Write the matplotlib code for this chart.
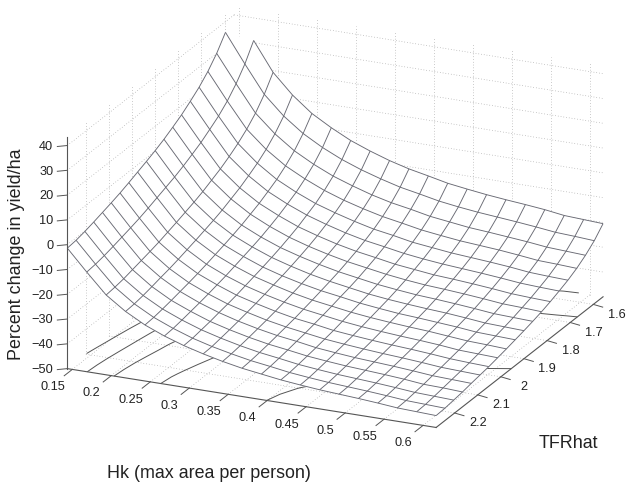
import numpy as np
import matplotlib
matplotlib.use("Agg")
import matplotlib.pyplot as plt
from mpl_toolkits.mplot3d import proj3d

plt.rcParams['font.family'] = ['Liberation Sans', 'DejaVu Sans']

# grid of the mesh, both
hk = [0.1436, 0.1685, 0.1934, 0.2183, 0.2432, 0.2681, 0.2930, 0.3179, 0.3428, 0.3677,
      0.3926, 0.4175, 0.4424, 0.4673, 0.4922, 0.5171, 0.5420, 0.5669, 0.5918, 0.6167]
tfr = [2.280, 2.242, 2.204, 2.166, 2.128, 2.090, 2.052, 2.014, 1.976, 1.938,
       1.900, 1.862, 1.824, 1.786, 1.748, 1.710, 1.672, 1.634, 1.596, 1.558]

# percent change, one row per tfr value, one column per hk value
nan = float('nan')
pct = [
    [-1.4, -9.8, -17.8, -23.2, -27.4, -30.6, -33.2, -35.3, -37.1, -38.6, -39.7, -40.8, -41.6, -42.3, -42.8, -43.3, -43.9, -44.6, -44.9, -45.2],
    [-1.0, -9.4, -17.4, -22.9, -27.1, -30.3, -33.0, -35.1, -36.8, -38.3, -39.4, -40.6, -41.4, -42.1, -42.6, -43.1, -43.7, -44.4, -44.7, -45.0],
    [-0.2, -8.7, -16.8, -22.3, -26.5, -29.7, -32.4, -34.5, -36.3, -37.8, -38.9, -40.1, -40.9, -41.6, -42.1, -42.6, -43.2, -43.9, -44.2, -44.5],
    [0.8, -7.8, -15.9, -21.5, -25.8, -29.0, -31.8, -33.9, -35.7, -37.2, -38.3, -39.5, -40.3, -41.0, -41.5, -42.0, -42.6, -43.4, -43.6, -44.0],
    [1.9, -6.8, -15.0, -20.6, -25.0, -28.3, -31.0, -33.2, -35.0, -36.5, -37.6, -38.9, -39.7, -40.4, -40.9, -41.4, -42.0, -42.7, -43.0, -43.3],
    [3.0, -5.8, -14.1, -19.8, -24.2, -27.5, -30.3, -32.4, -34.3, -35.8, -37.0, -38.2, -39.0, -39.7, -40.3, -40.8, -41.4, -42.1, -42.4, -42.7],
    [4.2, -4.7, -13.1, -18.8, -23.3, -26.6, -29.5, -31.6, -33.5, -35.1, -36.2, -37.5, -38.3, -39.0, -39.6, -40.1, -40.7, -41.4, -41.8, -42.1],
    [5.6, -3.4, -11.9, -17.7, -22.3, -25.7, -28.5, -30.7, -32.6, -34.2, -35.4, -36.6, -37.5, -38.2, -38.8, -39.3, -39.9, -40.7, -41.0, -41.3],
    [7.1, -2.0, -10.7, -16.6, -21.2, -24.6, -27.5, -29.7, -31.7, -33.3, -34.5, -35.7, -36.6, -37.3, -37.9, -38.4, -39.1, -39.8, -40.1, -40.5],
    [8.6, -0.6, -9.4, -15.4, -20.1, -23.5, -26.5, -28.8, -30.7, -32.3, -33.5, -34.8, -35.7, -36.5, -37.0, -37.6, -38.2, -39.0, -39.3, -39.6],
    [10.2, 0.8, -8.1, -14.2, -18.9, -22.4, -25.4, -27.7, -29.7, -31.3, -32.6, -33.9, -34.8, -35.5, -36.1, -36.6, -37.3, -38.1, -38.4, -38.7],
    [12.0, 2.5, -6.6, -12.8, -17.6, -21.2, -24.2, -26.5, -28.5, -30.2, -31.5, -32.8, -33.7, -34.5, -35.0, -35.6, -36.3, -37.1, -37.4, -37.7],
    [14.1, 4.4, -4.8, -11.1, -16.0, -19.7, -22.8, -25.2, -27.2, -28.9, -30.2, -31.5, -32.5, -33.3, -33.8, -34.4, -35.1, -35.9, -36.2, -36.6],
    [16.3, 6.4, -3.0, -9.4, -14.4, -18.1, -21.3, -23.7, -25.8, -27.5, -28.8, -30.2, -31.1, -32.0, -32.5, -33.1, -33.8, -34.6, -35.0, -35.3],
    [19.0, 8.9, -0.8, -7.3, -12.4, -16.2, -19.4, -21.9, -24.1, -25.9, -27.2, -28.6, -29.6, -30.4, -31.0, -31.6, -32.3, -33.1, -33.5, -33.8],
    [21.9, 11.5, 1.7, -5.0, -10.3, -14.2, -17.5, -20.0, -22.2, -24.1, -25.4, -26.9, -27.8, -28.7, -29.3, -29.9, -30.6, -31.5, -31.9, -32.2],
    [25.5, 14.8, 4.7, -2.2, -7.6, -11.6, -15.0, -17.7, -19.9, -21.8, -23.2, -24.7, -25.7, -26.6, -27.2, -27.8, -28.6, -29.5, -29.8, -30.2],
    [30.0, 19.0, 8.4, 1.3, -4.3, -8.5, -12.0, -14.7, -17.1, -19.0, -20.4, -22.0, -23.0, -24.0, -24.6, -25.3, -26.0, -26.9, -27.3, -27.7],
    [35.7, 24.2, 13.2, 5.7, -0.1, -4.5, -8.1, -11.0, -13.4, -15.5, -17.0, -18.6, -19.7, -20.6, -21.3, -22.0, -22.8, -23.7, -24.1, -24.6],
    [nan, 30.9, 19.3, 11.4, 5.2, 0.7, -3.2, -6.2, -8.8, -10.9, -12.5, -14.2, -15.3, -16.3, -17.1, -17.8, -18.6, -19.7, -20.1, -20.5],
]

hk_ticks = [0.15, 0.2, 0.25, 0.3, 0.35, 0.4, 0.45, 0.5, 0.55, 0.6]
hk_labels = ['0.15', '0.2', '0.25', '0.3', '0.35', '0.4', '0.45', '0.5', '0.55', '0.6']
tfr_ticks = [1.6, 1.7, 1.8, 1.9, 2.0, 2.1, 2.2]
tfr_labels = ['1.6', '1.7', '1.8', '1.9', '2', '2.1', '2.2']
z_ticks = [-50, -40, -30, -20, -10, 0, 10, 20, 30, 40]
contour_levels = [-40, -30, -20, -10, 0, 10, 20, 30, 40]

hk_min, hk_max = hk[0], hk[-1]
tfr_front, tfr_back = tfr[0], tfr[-1]
z_min, z_max = -50, 43.5

grid_color = '#9a9a9a'
axis_color = '#555555'
mesh_color = '#686973'
text_color = '#222222'

W, H = 629, 491
fig = plt.figure(figsize=(W / 100, H / 100), dpi=100)
ax = fig.add_axes([24 / W, -37 / H, 606 / W, 606 / H], projection='3d', proj_type='ortho')
ax.computed_zorder = False
ax.set_box_aspect((405, 406, 248))
ax.view_init(elev=20.7, azim=-65.7)
ax.set_xlim(hk_min, hk_max)
ax.set_ylim(tfr_front, tfr_back)
ax.set_zlim(z_min, z_max)
ax.set_axis_off()


def label3d(x, y, z, s, **kw):
    # plain 2d text placed at the projected position of a 3d point
    x2, y2, _ = proj3d.proj_transform(x, y, z, ax.get_proj())
    ax.text2D(x2, y2, s, transform=ax.transData, va='center', fontsize=9.2, color=text_color, **kw)


dots = dict(color=grid_color, lw=0.5, ls=(0, (1, 3)), zorder=1)

# dotted grid on the floor and on the two back walls
for h in hk_ticks:
    ax.plot([h, h], [tfr_front, tfr_back], [z_min, z_min], **dots)
    ax.plot([h, h], [tfr_back, tfr_back], [z_min, z_max], **dots)
for t in tfr_ticks:
    ax.plot([hk_min, hk_max], [t, t], [z_min, z_min], **dots)
    ax.plot([hk_min, hk_min], [t, t], [z_min, z_max], **dots)
for z in z_ticks[1:]:
    ax.plot([hk_min, hk_min], [tfr_front, tfr_back], [z, z], **dots)
    ax.plot([hk_min, hk_max], [tfr_back, tfr_back], [z, z], **dots)

X, Y = np.meshgrid(hk, tfr)
Z = np.array(pct)

# meshc style contours on the floor, the surface covers most of them
ax.contour(X, Y, Z, levels=contour_levels, offset=z_min, colors='#555555',
           linewidths=0.7, linestyles='solid', zorder=2)
# white faces hide what is behind, the wireframe leaves the gap at the missing corner open
ax.plot_surface(X, Y, Z, rstride=1, cstride=1, color='white', edgecolor='white',
                linewidth=0.2, shade=False, zorder=3)
ax.plot_wireframe(X, Y, Z, rstride=1, cstride=1, color=mesh_color, linewidth=0.65, zorder=4)

# axis lines
ax.plot([hk_min, hk_max], [tfr_front, tfr_front], [z_min, z_min], color=axis_color, lw=0.8, zorder=5)
ax.plot([hk_max, hk_max], [tfr_front, tfr_back], [z_min, z_min], color=axis_color, lw=0.8, zorder=5)
ax.plot([hk_min, hk_min], [tfr_front, tfr_front], [z_min, z_max], color=axis_color, lw=0.8, zorder=5)

for h, lab in zip(hk_ticks, hk_labels):
    ax.plot([h, h], [tfr_front, tfr_front + 0.035], [z_min, z_min], color=axis_color, lw=0.7, zorder=5)
    label3d(h, tfr_front + 0.085, z_min - 1, lab, ha='center')
for t, lab in zip(tfr_ticks, tfr_labels):
    ax.plot([hk_max, hk_max + 0.012], [t, t], [z_min, z_min - 0.5], color=axis_color, lw=0.7, zorder=5)
    label3d(hk_max + 0.03, t, z_min - 2.6, lab, ha='center')
for z in z_ticks:
    ax.plot([hk_min, hk_min - 0.0093], [tfr_front, tfr_front + 0.0119], [z, z], color=axis_color, lw=0.7, zorder=5)
    label3d(hk_min - 0.013, tfr_front + 0.0167, z, str(z).replace('-', '\u2212'), ha='right')

fig.text(209 / W, 1 - 473 / H, 'Hk (max area per person)', ha='center', va='center', fontsize=12.9, color=text_color)
fig.text(568 / W, 1 - 443 / H, 'TFRhat', ha='center', va='center', fontsize=12.9, color=text_color)
fig.text(17 / W, 1 - 254 / H, 'Percent change in yield/ha', ha='center', va='center', rotation=90,
         fontsize=12.9, color=text_color)

fig.savefig('out.png', dpi=100)
